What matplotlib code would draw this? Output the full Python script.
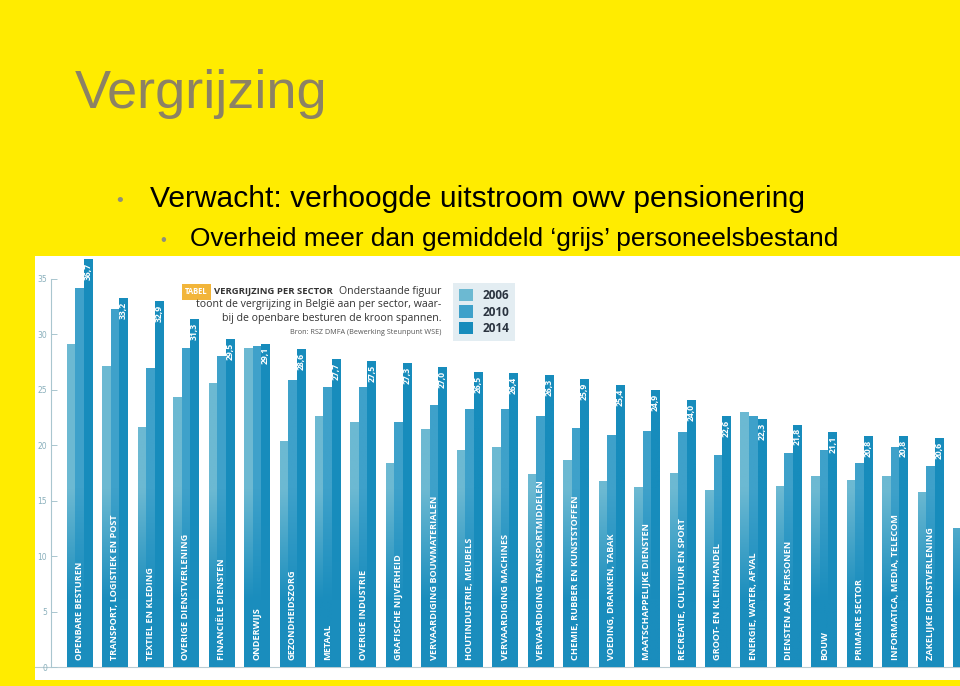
import matplotlib
matplotlib.use("Agg")
import matplotlib.pyplot as plt
import matplotlib.colors as mcolors
import numpy as np

# sectoren (van hoog naar laag, 2014)
sectors = ["OPENBARE BESTUREN", "TRANSPORT, LOGISTIEK EN POST", "TEXTIEL EN KLEDING",
           "OVERIGE DIENSTVERLENING", "FINANCIËLE DIENSTEN", "ONDERWIJS",
           "GEZONDHEIDSZORG", "METAAL", "OVERIGE INDUSTRIE", "GRAFISCHE NIJVERHEID",
           "VERVAARDIGING BOUWMATERIALEN", "HOUTINDUSTRIE, MEUBELS",
           "VERVAARDIGING MACHINES", "VERVAARDIGING TRANSPORTMIDDELEN",
           "CHEMIE, RUBBER EN KUNSTSTOFFEN", "VOEDING, DRANKEN, TABAK",
           "MAATSCHAPPELIJKE DIENSTEN", "RECREATIE, CULTUUR EN SPORT",
           "GROOT- EN KLEINHANDEL", "ENERGIE, WATER, AFVAL", "DIENSTEN AAN PERSONEN",
           "BOUW", "PRIMAIRE SECTOR", "INFORMATICA, MEDIA, TELECOM",
           "ZAKELIJKE DIENSTVERLENING", ""]
v2006 = [29.1, 27.1, 21.6, 24.3, 25.5, 28.7, 20.3, 22.6, 22.0, 18.3, 21.4, 19.5, 19.8,
         17.3, 18.6, 16.7, 16.2, 17.4, 15.9, 22.9, 16.3, 17.2, 16.8, 17.2, 15.7, 12.5]
v2010 = [34.1, 32.2, 26.9, 28.7, 28.0, 28.9, 25.8, 25.2, 25.2, 22.0, 23.6, 23.2, 23.2,
         22.6, 21.5, 20.9, 21.2, 21.1, 19.1, 22.6, 19.2, 19.5, 18.3, 19.8, 18.1, 16.0]
v2014 = [36.7, 33.2, 32.9, 31.3, 29.5, 29.1, 28.6, 27.7, 27.5, 27.3, 27.0, 26.5, 26.4,
         26.3, 25.9, 25.4, 24.9, 24.0, 22.6, 22.3, 21.8, 21.1, 20.8, 20.8, 20.6, 20.4]
years = ["2006", "2010", "2014"]
yticks = [0, 5, 10, 15, 20, 25, 30, 35]

W, H = 960, 686
fig = plt.figure(figsize=(9.6, 6.86), dpi=100, facecolor="#ffec00")

def fx(px):
    return px / W

def fy(py):
    return 1 - py / H

# slide titel en bullets
fig.text(fx(75), fy(108), "Vergrijzing", fontsize=39, color="#8c8264",
         family="Liberation Sans", va="baseline")
fig.text(fx(116), fy(206), "•", fontsize=14, color="#8f8f7a", family="Liberation Sans", va="baseline")
fig.text(fx(150), fy(207), "Verwacht: verhoogde uitstroom owv pensionering", fontsize=21.6,
         color="black", family="Liberation Sans", va="baseline")
fig.text(fx(160), fy(245), "•", fontsize=12, color="#8f8f7a", family="Liberation Sans", va="baseline")
fig.text(fx(190), fy(246), "Overheid meer dan gemiddeld ‘grijs’ personeelsbestand", fontsize=18.9,
         color="black", family="Liberation Sans", va="baseline")

# grafiek
ax = fig.add_axes([fx(35), 1 - 680 / H, 925 / W, 424 / H])
ax.set_facecolor("white")

x = np.arange(len(sectors))
w = 0.24
tops = ["#6cb9d2", "#3ea1ca", "#178cbc"]
base = "#1a8dbd"
bars = []
for off, vals, col, yr in zip([-w, 0, w], [v2006, v2010, v2014], tops, years):
    bars.append(ax.bar(x + off, vals, w, color=col, label=yr))
    # verloop: licht bovenaan, donkerder onderaan
    cmap = mcolors.LinearSegmentedColormap.from_list("g", [base, col])
    for xi, v in zip(x + off, vals):
        grad = np.linspace(0, 1, 100).reshape(-1, 1) * v
        t = np.clip((grad - 6) / 10.0, 0, 1)
        ax.imshow(t, cmap=cmap, extent=[xi - w / 2, xi + w / 2, 0, v], origin="lower",
                  aspect="auto", vmin=0, vmax=1, zorder=2, interpolation="bilinear")

for xi, v, name in zip(x, v2014, sectors):
    if name:
        ax.text(xi + w, v - 0.3, f"{v:.1f}".replace(".", ","), rotation=90, ha="center",
                va="top", color="white", fontsize=6.2, fontweight="bold", family="Open Sans", zorder=3)
        ax.text(xi, 0.6, name, rotation=90, ha="center", va="bottom", color="white",
                fontsize=6.6, fontweight="bold", family="Open Sans", zorder=3)

ax.set_xlim(-1.255, 24.83)
ax.set_ylim(-1.17, 37.03)
ax.axhline(0, color="#b9ccd3", lw=0.8, zorder=0)

for s in ["top", "right", "bottom"]:
    ax.spines[s].set_visible(False)
ax.spines["left"].set_position(("data", -0.79))
ax.spines["left"].set_bounds(0, 35)
ax.spines["left"].set_color("#a9c6cf")
ax.spines["left"].set_linewidth(0.8)
ax.set_xticks([])
ax.set_yticks(yticks)
ax.tick_params(axis="y", direction="in", length=4, width=0.7, color="#a9c6cf",
               labelsize=5.5, labelcolor="#8ab0bc", pad=3)

leg = ax.legend(handles=bars, loc="upper left", bbox_to_anchor=(fx(453), fy(283)),
                bbox_transform=fig.transFigure, frameon=True, fancybox=False, borderaxespad=0,
                handlelength=1.2, handleheight=1.2, handletextpad=0.8, labelspacing=0.3,
                borderpad=0.5, prop={"family": "Open Sans", "weight": "bold", "size": 8.5})
leg.get_frame().set_facecolor("#dde9ef")
leg.get_frame().set_edgecolor("none")
for t in leg.get_texts():
    t.set_color("#2b3440")

# tekstblok in de figuur
fig.text(fx(185), fy(292), "TABEL", fontsize=5.5, color="white", family="Open Sans",
         fontweight="bold", va="center",
         bbox=dict(boxstyle="square,pad=0.4", facecolor="#f2b53a", edgecolor="none"))
fig.text(fx(214), fy(292), "VERGRIJZING PER SECTOR", fontsize=6.8, color="#333333",
         family="Open Sans", fontweight="bold", va="center")
fig.text(fx(441), fy(292), "Onderstaande figuur", fontsize=7.6, color="#333333",
         family="Open Sans", va="center", ha="right")
fig.text(fx(441), fy(305), "toont de vergrijzing in België aan per sector, waar-", fontsize=7.6,
         color="#333333", family="Open Sans", va="center", ha="right")
fig.text(fx(441), fy(318), "bij de openbare besturen de kroon spannen.", fontsize=7.6,
         color="#333333", family="Open Sans", va="center", ha="right")
fig.text(fx(441), fy(332), "Bron: RSZ DMFA (Bewerking Steunpunt WSE)", fontsize=5.2,
         color="#555555", family="Open Sans", va="center", ha="right")

fig.savefig("out.png", dpi=100, facecolor=fig.get_facecolor())
